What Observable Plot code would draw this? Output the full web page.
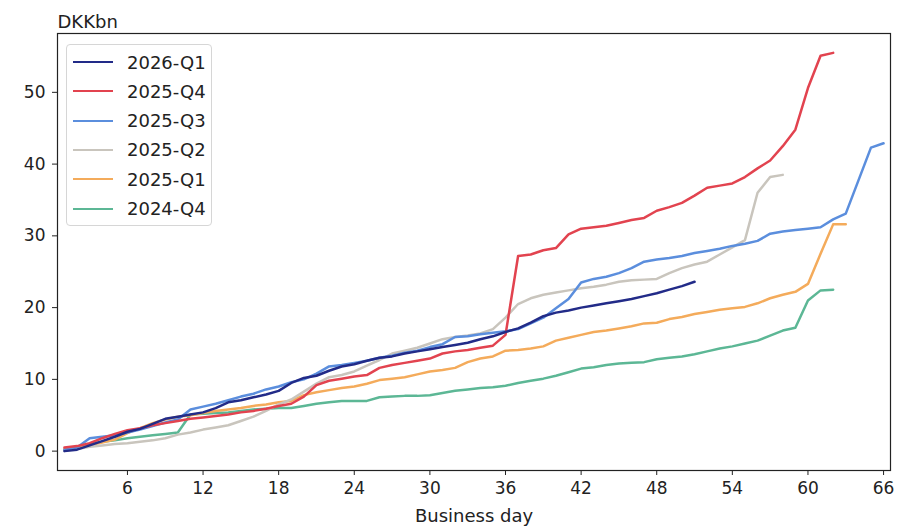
<!DOCTYPE html>
<html>
<head>
<meta charset="utf-8">
<script src="https://cdn.jsdelivr.net/npm/d3@7"></script>
<script src="https://cdn.jsdelivr.net/npm/@observablehq/plot@0.6"></script>
<style>
  body { margin: 0; background: #fff; }
  #wrap { position: relative; width: 910px; height: 532px; font-family: "DejaVu Sans", sans-serif; }
  #legend { position: absolute; left: 66px; top: 44px; width: 146px; height: 182px;
    border: 1px solid #d6d6d6; border-radius: 4px; background: rgba(255,255,255,0.85); box-sizing: border-box; }
  .item { position: absolute; left: 0; height: 20px; display: flex; align-items: center; font-size: 18px; color: #222; }
  .swatch { width: 40px; height: 0; border-top: 2.5px solid; margin-left: 6px; margin-right: 14px; }
</style>
</head>
<body>
<div id="wrap"></div>
<script>
const seriesNames = ["2026-Q1", "2025-Q4", "2025-Q3", "2025-Q2", "2025-Q1", "2024-Q4"];
const colors = ["#222b88", "#e2434f", "#5b8edd", "#c9c5bd", "#f4ab5b", "#5cb795"];

const q2026_1 = [0.0,0.2,0.8,1.4,2.0,2.7,3.1,3.8,4.5,4.8,5.1,5.4,6.0,6.8,7.1,7.5,7.9,8.4,9.5,10.2,
  10.5,11.2,11.8,12.1,12.6,13.0,13.2,13.6,13.9,14.2,14.5,14.8,15.1,15.6,16.0,16.6,17.1,17.9,18.8,19.3,
  19.6,20.0,20.3,20.6,20.9,21.2,21.6,22.0,22.5,23.0,23.6];
const q2025_4 = [0.5,0.7,1.1,1.8,2.4,2.9,3.2,3.6,3.9,4.2,4.5,4.7,4.9,5.1,5.4,5.6,5.9,6.3,6.6,7.6,
  9.2,9.8,10.1,10.4,10.6,11.6,12.0,12.3,12.6,12.9,13.6,13.9,14.1,14.4,14.7,16.2,27.2,27.4,28.0,28.3,
  30.2,31.0,31.2,31.4,31.8,32.2,32.5,33.5,34.0,34.6,35.6,36.7,37.0,37.3,38.2,39.4,40.5,42.5,44.8,50.6,
  55.1,55.5];
const q2025_3 = [0.2,0.5,1.8,2.0,2.2,2.6,3.0,3.5,4.0,4.4,5.8,6.2,6.6,7.1,7.6,8.0,8.6,9.0,9.6,10.0,
  10.8,11.8,12.0,12.3,12.6,13.0,13.3,13.7,14.0,14.5,14.9,15.9,16.0,16.3,16.5,16.7,17.0,17.8,18.6,19.9,
  21.2,23.5,24.0,24.3,24.8,25.5,26.4,26.7,26.9,27.2,27.6,27.9,28.2,28.6,28.9,29.3,30.3,30.6,30.8,31.0,
  31.2,32.3,33.1,37.7,42.3,42.9];
const q2025_2 = [0.1,0.3,0.6,0.8,1.0,1.1,1.3,1.5,1.8,2.3,2.6,3.0,3.3,3.6,4.2,4.8,5.6,6.5,7.2,8.3,
  9.4,10.3,10.6,11.1,11.9,12.7,13.6,14.0,14.4,15.0,15.6,15.9,16.1,16.4,17.0,18.6,20.5,21.3,21.8,22.1,
  22.4,22.7,22.9,23.2,23.6,23.8,23.9,24.0,24.8,25.5,26.0,26.4,27.4,28.4,29.4,36.0,38.2,38.5];
const q2025_1 = [0.3,0.5,0.8,1.2,1.6,2.5,3.2,3.9,4.4,4.8,5.0,5.3,5.6,5.8,6.0,6.3,6.5,6.8,7.0,7.8,
  8.2,8.5,8.8,9.0,9.4,9.9,10.1,10.3,10.7,11.1,11.3,11.6,12.4,12.9,13.2,14.0,14.1,14.3,14.6,15.4,
  15.8,16.2,16.6,16.8,17.1,17.4,17.8,17.9,18.4,18.7,19.1,19.4,19.7,19.9,20.1,20.6,21.3,21.8,22.2,23.3,
  27.5,31.6,31.6];
const q2024_4 = [0.2,0.5,0.9,1.3,1.5,1.8,2.0,2.2,2.4,2.6,5.1,5.2,5.3,5.4,5.6,5.8,5.9,6.0,6.0,6.3,
  6.6,6.8,7.0,7.0,7.0,7.5,7.6,7.7,7.7,7.8,8.1,8.4,8.6,8.8,8.9,9.1,9.5,9.8,10.1,10.5,
  11.0,11.5,11.7,12.0,12.2,12.3,12.4,12.8,13.0,13.2,13.5,13.9,14.3,14.6,15.0,15.4,16.1,16.8,17.2,21.0,
  22.4,22.5];

const xTicks = [6, 12, 18, 24, 30, 36, 42, 48, 54, 60, 66];
const yTicks = [0, 10, 20, 30, 40, 50];

const seriesValues = [q2026_1, q2025_4, q2025_3, q2025_2, q2025_1, q2024_4];
const rows = [];
seriesValues.forEach((vals, i) => vals.forEach((v, j) => rows.push({series: seriesNames[i], day: j + 1, value: v})));

// draw oldest first so newest is on top
const drawOrder = seriesNames.slice().reverse();
const lineMarks = drawOrder.map(name => Plot.line(rows.filter(r => r.series === name), {
  x: "day", y: "value", stroke: colors[seriesNames.indexOf(name)], strokeWidth: 2.5
}));

const chart = Plot.plot({
  width: 910,
  height: 532,
  marginLeft: 57,
  marginRight: 20,
  marginTop: 33,
  marginBottom: 62,
  style: {fontFamily: "DejaVu Sans, sans-serif", fontSize: "17px", color: "#222", background: "#fff"},
  x: {domain: [0.45, 66.55]},
  y: {domain: [-2.7, 58.2]},
  marks: [
    Plot.axisX({ticks: xTicks, tickSize: 5, tickPadding: 6, label: null, fontSize: 17}),
    Plot.axisY({ticks: yTicks, tickSize: 5, tickPadding: 7, label: null, fontSize: 17}),
    ...lineMarks,
    Plot.frame({stroke: "#222", strokeWidth: 1.2}),
    Plot.text(["DKKbn"], {frameAnchor: "top-left", dy: -18, textAnchor: "start", fontSize: 18, fill: "#222"}),
    Plot.text(["Business day"], {frameAnchor: "bottom", dy: 51, fontSize: 18, fill: "#222"})
  ]
});

const wrap = document.getElementById("wrap");
wrap.appendChild(chart);
const legend = document.createElement("div");
legend.id = "legend";
seriesNames.forEach((name, i) => {
  const item = document.createElement("div");
  item.className = "item";
  item.style.top = (7 + i * 29.3) + "px";
  const sw = document.createElement("span");
  sw.className = "swatch";
  sw.style.borderTopColor = colors[i];
  const label = document.createElement("span");
  label.textContent = name;
  item.appendChild(sw);
  item.appendChild(label);
  legend.appendChild(item);
});
wrap.appendChild(legend);
</script>
</body>
</html>
